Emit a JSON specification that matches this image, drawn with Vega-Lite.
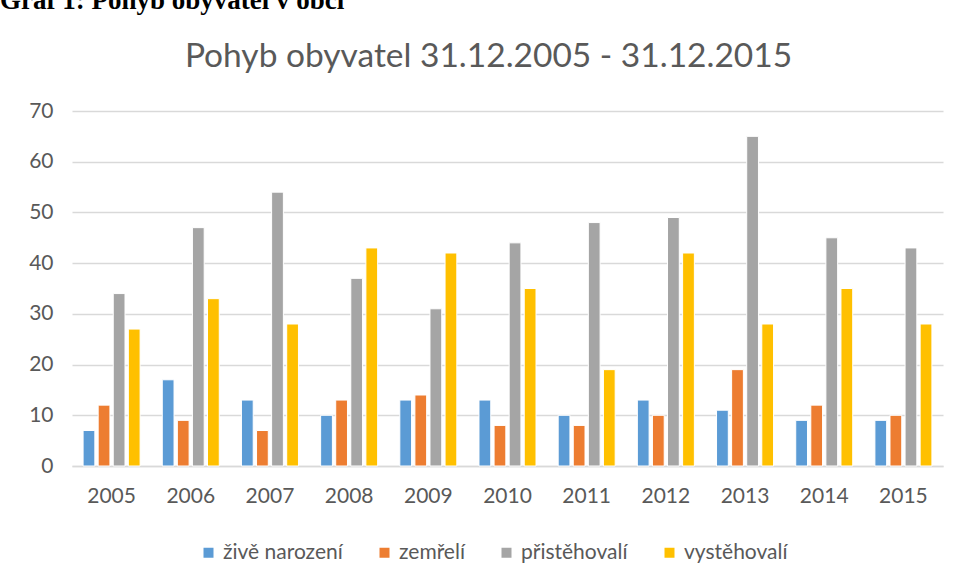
{
  "$schema": "https://vega.github.io/schema/vega-lite/v6.json",
  "background": "white",
  "padding": {"left": 0, "top": -14, "right": 10, "bottom": 0},
  "title": {"text": "Graf 1: Pohyb obyvatel v obci", "font": "Liberation Serif", "fontSize": 27, "fontWeight": "bold", "color": "black", "anchor": "start", "frame": "bounds", "offset": 25},
  "vconcat": [
    {
      "title": {"text": "Pohyb obyvatel 31.12.2005 - 31.12.2015", "font": "Lato", "fontSize": 33.5, "fontWeight": "normal", "color": "#595959", "anchor": "middle", "frame": "bounds", "offset": 26, "dx": 17},
      "width": 871,
      "height": 355,
      "data": {"values": [
        {"rok": "2005", "ukazatel": "živě narození", "pocet": 7},
        {"rok": "2005", "ukazatel": "zemřelí", "pocet": 12},
        {"rok": "2005", "ukazatel": "přistěhovalí", "pocet": 34},
        {"rok": "2005", "ukazatel": "vystěhovalí", "pocet": 27},
        {"rok": "2006", "ukazatel": "živě narození", "pocet": 17},
        {"rok": "2006", "ukazatel": "zemřelí", "pocet": 9},
        {"rok": "2006", "ukazatel": "přistěhovalí", "pocet": 47},
        {"rok": "2006", "ukazatel": "vystěhovalí", "pocet": 33},
        {"rok": "2007", "ukazatel": "živě narození", "pocet": 13},
        {"rok": "2007", "ukazatel": "zemřelí", "pocet": 7},
        {"rok": "2007", "ukazatel": "přistěhovalí", "pocet": 54},
        {"rok": "2007", "ukazatel": "vystěhovalí", "pocet": 28},
        {"rok": "2008", "ukazatel": "živě narození", "pocet": 10},
        {"rok": "2008", "ukazatel": "zemřelí", "pocet": 13},
        {"rok": "2008", "ukazatel": "přistěhovalí", "pocet": 37},
        {"rok": "2008", "ukazatel": "vystěhovalí", "pocet": 43},
        {"rok": "2009", "ukazatel": "živě narození", "pocet": 13},
        {"rok": "2009", "ukazatel": "zemřelí", "pocet": 14},
        {"rok": "2009", "ukazatel": "přistěhovalí", "pocet": 31},
        {"rok": "2009", "ukazatel": "vystěhovalí", "pocet": 42},
        {"rok": "2010", "ukazatel": "živě narození", "pocet": 13},
        {"rok": "2010", "ukazatel": "zemřelí", "pocet": 8},
        {"rok": "2010", "ukazatel": "přistěhovalí", "pocet": 44},
        {"rok": "2010", "ukazatel": "vystěhovalí", "pocet": 35},
        {"rok": "2011", "ukazatel": "živě narození", "pocet": 10},
        {"rok": "2011", "ukazatel": "zemřelí", "pocet": 8},
        {"rok": "2011", "ukazatel": "přistěhovalí", "pocet": 48},
        {"rok": "2011", "ukazatel": "vystěhovalí", "pocet": 19},
        {"rok": "2012", "ukazatel": "živě narození", "pocet": 13},
        {"rok": "2012", "ukazatel": "zemřelí", "pocet": 10},
        {"rok": "2012", "ukazatel": "přistěhovalí", "pocet": 49},
        {"rok": "2012", "ukazatel": "vystěhovalí", "pocet": 42},
        {"rok": "2013", "ukazatel": "živě narození", "pocet": 11},
        {"rok": "2013", "ukazatel": "zemřelí", "pocet": 19},
        {"rok": "2013", "ukazatel": "přistěhovalí", "pocet": 65},
        {"rok": "2013", "ukazatel": "vystěhovalí", "pocet": 28},
        {"rok": "2014", "ukazatel": "živě narození", "pocet": 9},
        {"rok": "2014", "ukazatel": "zemřelí", "pocet": 12},
        {"rok": "2014", "ukazatel": "přistěhovalí", "pocet": 45},
        {"rok": "2014", "ukazatel": "vystěhovalí", "pocet": 35},
        {"rok": "2015", "ukazatel": "živě narození", "pocet": 9},
        {"rok": "2015", "ukazatel": "zemřelí", "pocet": 10},
        {"rok": "2015", "ukazatel": "přistěhovalí", "pocet": 43},
        {"rok": "2015", "ukazatel": "vystěhovalí", "pocet": 28}
      ]},
      "mark": {"type": "bar", "stroke": "white", "strokeWidth": 1},
      "encoding": {
        "x": {"field": "rok", "type": "nominal", "title": null,
              "scale": {"paddingInner": 0.28, "paddingOuter": 0.14},
              "axis": {"labelAngle": 0, "ticks": false, "domainColor": "#d9d9d9", "domainWidth": 1.5, "labelPadding": 19}},
        "xOffset": {"field": "ukazatel", "type": "nominal",
                    "sort": ["živě narození", "zemřelí", "přistěhovalí", "vystěhovalí"],
                    "scale": {"paddingInner": 0.22}},
        "y": {"field": "pocet", "type": "quantitative", "title": null,
              "scale": {"domain": [0, 70]},
              "axis": {"values": [0, 10, 20, 30, 40, 50, 60, 70], "domain": false, "ticks": false, "gridColor": "#d9d9d9", "gridWidth": 1.5, "labelPadding": 19, "minExtent": 72}},
        "color": {"field": "ukazatel", "type": "nominal", "title": null,
                  "sort": ["živě narození", "zemřelí", "přistěhovalí", "vystěhovalí"],
                  "scale": {"domain": ["živě narození", "zemřelí", "přistěhovalí", "vystěhovalí"], "range": ["#5B9BD5", "#ED7D31", "#A5A5A5", "#FFC000"]},
                  "legend": {"orient": "none", "legendX": 126, "legendY": 431, "direction": "horizontal", "symbolType": "square", "symbolSize": 100, "symbolStrokeWidth": 0, "columnPadding": 31, "labelOffset": 4, "labelFontSize": 21, "labelColor": "#595959", "labelFont": "Lato"}}
      }
    }
  ],
  "config": {
    "font": "Lato",
    "view": {"stroke": null},
    "axis": {"labelFont": "Lato", "labelFontSize": 21, "labelColor": "#595959"}
  }
}
